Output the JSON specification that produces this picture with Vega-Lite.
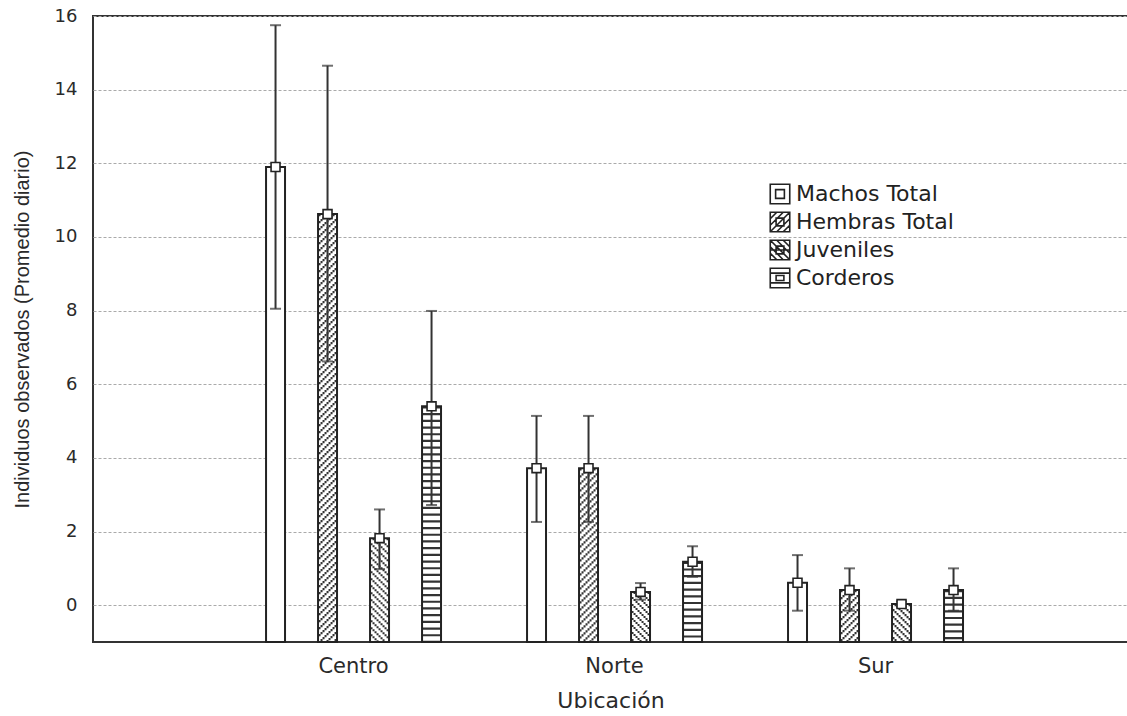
{
  "$schema": "https://vega.github.io/schema/vega-lite/v6.json",
  "width": 1035,
  "height": 626,
  "autosize": {"type": "none"},
  "padding": {"left": 93, "top": 16, "right": 0, "bottom": 74},
  "background": "white",
  "config": {
    "view": {"stroke": "#333", "strokeWidth": 2},
    "font": "DejaVu Sans",
    "axis": {"labelFont": "DejaVu Sans", "titleFont": "DejaVu Sans", "labelColor": "#2a2a2a", "titleColor": "#2a2a2a"}
  },
  "resolve": {"scale": {"xOffset": "independent"}},
  "data": {
    "values": [
      {"Ubicacion": "Centro", "Grupo": "Machos Total", "media": 11.9, "inf": 8.05, "sup": 15.75},
      {"Ubicacion": "Centro", "Grupo": "Hembras Total", "media": 10.62, "inf": 6.62, "sup": 14.65},
      {"Ubicacion": "Centro", "Grupo": "Juveniles", "media": 1.82, "inf": 0.98, "sup": 2.6},
      {"Ubicacion": "Centro", "Grupo": "Corderos", "media": 5.4, "inf": 2.72, "sup": 7.99},
      {"Ubicacion": "Norte", "Grupo": "Machos Total", "media": 3.72, "inf": 2.26, "sup": 5.14},
      {"Ubicacion": "Norte", "Grupo": "Hembras Total", "media": 3.72, "inf": 2.26, "sup": 5.14},
      {"Ubicacion": "Norte", "Grupo": "Juveniles", "media": 0.36, "inf": 0.15, "sup": 0.6},
      {"Ubicacion": "Norte", "Grupo": "Corderos", "media": 1.18, "inf": 0.77, "sup": 1.6},
      {"Ubicacion": "Sur", "Grupo": "Machos Total", "media": 0.61, "inf": -0.15, "sup": 1.36},
      {"Ubicacion": "Sur", "Grupo": "Hembras Total", "media": 0.41, "inf": -0.15, "sup": 1.0},
      {"Ubicacion": "Sur", "Grupo": "Juveniles", "media": 0.03, "inf": -0.03, "sup": 0.1},
      {"Ubicacion": "Sur", "Grupo": "Corderos", "media": 0.41, "inf": -0.15, "sup": 1.0}
    ]
  },
  "encoding": {
    "x": {
      "field": "Ubicacion", "type": "nominal", "sort": ["Centro", "Norte", "Sur"],
      "scale": {"type": "band", "paddingInner": 0, "paddingOuter": 0.4828, "align": 0.516},
      "title": "Ubicación",
      "axis": {"labelAngle": 0, "labelFontSize": 21, "titleFontSize": 22, "titleFontWeight": "normal", "ticks": false, "domain": false, "labelPadding": 13, "titlePadding": 14}
    },
    "xOffset": {
      "field": "Grupo", "type": "nominal",
      "scale": {"type": "band", "domain": ["Machos Total", "Hembras Total", "Juveniles", "Corderos"], "paddingInner": 0.635, "paddingOuter": 0.827}
    }
  },
  "layer": [
    {
      "mark": {"type": "bar", "fill": "white", "strokeWidth": 0},
      "encoding": {
        "y": {
          "field": "media", "type": "quantitative",
          "scale": {"domain": [-1, 16], "nice": false, "zero": false},
          "title": "Individuos observados (Promedio diario)",
          "axis": {"values": [0, 2, 4, 6, 8, 10, 12, 14, 16], "grid": true, "gridDash": [3, 2], "gridColor": "#aaa", "gridWidth": 1, "domain": false, "tickSize": 0, "labelFontSize": 18, "labelPadding": 16, "titleFont": "Liberation Sans", "titleFontSize": 20, "titleFontWeight": "normal", "titlePadding": 22}
        },
        "y2": {"datum": -1}
      }
    },
    {"transform": [{"filter": "datum.Grupo === 'Hembras Total'"}], "mark": {"type": "rule", "color": "#333", "strokeWidth": 2, "strokeCap": "butt", "strokeDash": [2.2, 4.8], "strokeDashOffset": 0}, "encoding": {"xOffset": {"field": "Grupo", "type": "nominal", "scale": {"type": "band", "domain": ["Machos Total", "Hembras Total", "Juveniles", "Corderos"], "paddingInner": 0.635, "paddingOuter": 0.827, "align": 0.407}}, "y": {"field": "media", "type": "quantitative"}, "y2": {"datum": -1}}},
    {"transform": [{"filter": "datum.Grupo === 'Hembras Total'"}], "mark": {"type": "rule", "color": "#333", "strokeWidth": 2, "strokeCap": "butt", "strokeDash": [2.2, 4.8], "strokeDashOffset": 2}, "encoding": {"xOffset": {"field": "Grupo", "type": "nominal", "scale": {"type": "band", "domain": ["Machos Total", "Hembras Total", "Juveniles", "Corderos"], "paddingInner": 0.635, "paddingOuter": 0.827, "align": 0.43025}}, "y": {"field": "media", "type": "quantitative"}, "y2": {"datum": -1}}},
    {"transform": [{"filter": "datum.Grupo === 'Hembras Total'"}], "mark": {"type": "rule", "color": "#333", "strokeWidth": 2, "strokeCap": "butt", "strokeDash": [2.2, 4.8], "strokeDashOffset": 4}, "encoding": {"xOffset": {"field": "Grupo", "type": "nominal", "scale": {"type": "band", "domain": ["Machos Total", "Hembras Total", "Juveniles", "Corderos"], "paddingInner": 0.635, "paddingOuter": 0.827, "align": 0.4535}}, "y": {"field": "media", "type": "quantitative"}, "y2": {"datum": -1}}},
    {"transform": [{"filter": "datum.Grupo === 'Hembras Total'"}], "mark": {"type": "rule", "color": "#333", "strokeWidth": 2, "strokeCap": "butt", "strokeDash": [2.2, 4.8], "strokeDashOffset": 6}, "encoding": {"xOffset": {"field": "Grupo", "type": "nominal", "scale": {"type": "band", "domain": ["Machos Total", "Hembras Total", "Juveniles", "Corderos"], "paddingInner": 0.635, "paddingOuter": 0.827, "align": 0.47675}}, "y": {"field": "media", "type": "quantitative"}, "y2": {"datum": -1}}},
    {"transform": [{"filter": "datum.Grupo === 'Hembras Total'"}], "mark": {"type": "rule", "color": "#333", "strokeWidth": 2, "strokeCap": "butt", "strokeDash": [2.2, 4.8], "strokeDashOffset": 8}, "encoding": {"xOffset": {"field": "Grupo", "type": "nominal", "scale": {"type": "band", "domain": ["Machos Total", "Hembras Total", "Juveniles", "Corderos"], "paddingInner": 0.635, "paddingOuter": 0.827, "align": 0.5}}, "y": {"field": "media", "type": "quantitative"}, "y2": {"datum": -1}}},
    {"transform": [{"filter": "datum.Grupo === 'Hembras Total'"}], "mark": {"type": "rule", "color": "#333", "strokeWidth": 2, "strokeCap": "butt", "strokeDash": [2.2, 4.8], "strokeDashOffset": 10}, "encoding": {"xOffset": {"field": "Grupo", "type": "nominal", "scale": {"type": "band", "domain": ["Machos Total", "Hembras Total", "Juveniles", "Corderos"], "paddingInner": 0.635, "paddingOuter": 0.827, "align": 0.52325}}, "y": {"field": "media", "type": "quantitative"}, "y2": {"datum": -1}}},
    {"transform": [{"filter": "datum.Grupo === 'Hembras Total'"}], "mark": {"type": "rule", "color": "#333", "strokeWidth": 2, "strokeCap": "butt", "strokeDash": [2.2, 4.8], "strokeDashOffset": 12}, "encoding": {"xOffset": {"field": "Grupo", "type": "nominal", "scale": {"type": "band", "domain": ["Machos Total", "Hembras Total", "Juveniles", "Corderos"], "paddingInner": 0.635, "paddingOuter": 0.827, "align": 0.5465}}, "y": {"field": "media", "type": "quantitative"}, "y2": {"datum": -1}}},
    {"transform": [{"filter": "datum.Grupo === 'Hembras Total'"}], "mark": {"type": "rule", "color": "#333", "strokeWidth": 2, "strokeCap": "butt", "strokeDash": [2.2, 4.8], "strokeDashOffset": 14}, "encoding": {"xOffset": {"field": "Grupo", "type": "nominal", "scale": {"type": "band", "domain": ["Machos Total", "Hembras Total", "Juveniles", "Corderos"], "paddingInner": 0.635, "paddingOuter": 0.827, "align": 0.56975}}, "y": {"field": "media", "type": "quantitative"}, "y2": {"datum": -1}}},
    {"transform": [{"filter": "datum.Grupo === 'Hembras Total'"}], "mark": {"type": "rule", "color": "#333", "strokeWidth": 2, "strokeCap": "butt", "strokeDash": [2.2, 4.8], "strokeDashOffset": 16}, "encoding": {"xOffset": {"field": "Grupo", "type": "nominal", "scale": {"type": "band", "domain": ["Machos Total", "Hembras Total", "Juveniles", "Corderos"], "paddingInner": 0.635, "paddingOuter": 0.827, "align": 0.593}}, "y": {"field": "media", "type": "quantitative"}, "y2": {"datum": -1}}},
    {"transform": [{"filter": "datum.Grupo === 'Juveniles'"}], "mark": {"type": "rule", "color": "#333", "strokeWidth": 2, "strokeCap": "butt", "strokeDash": [2.2, 4.8], "strokeDashOffset": 16}, "encoding": {"xOffset": {"field": "Grupo", "type": "nominal", "scale": {"type": "band", "domain": ["Machos Total", "Hembras Total", "Juveniles", "Corderos"], "paddingInner": 0.635, "paddingOuter": 0.827, "align": 0.407}}, "y": {"field": "media", "type": "quantitative"}, "y2": {"datum": -1}}},
    {"transform": [{"filter": "datum.Grupo === 'Juveniles'"}], "mark": {"type": "rule", "color": "#333", "strokeWidth": 2, "strokeCap": "butt", "strokeDash": [2.2, 4.8], "strokeDashOffset": 14}, "encoding": {"xOffset": {"field": "Grupo", "type": "nominal", "scale": {"type": "band", "domain": ["Machos Total", "Hembras Total", "Juveniles", "Corderos"], "paddingInner": 0.635, "paddingOuter": 0.827, "align": 0.43025}}, "y": {"field": "media", "type": "quantitative"}, "y2": {"datum": -1}}},
    {"transform": [{"filter": "datum.Grupo === 'Juveniles'"}], "mark": {"type": "rule", "color": "#333", "strokeWidth": 2, "strokeCap": "butt", "strokeDash": [2.2, 4.8], "strokeDashOffset": 12}, "encoding": {"xOffset": {"field": "Grupo", "type": "nominal", "scale": {"type": "band", "domain": ["Machos Total", "Hembras Total", "Juveniles", "Corderos"], "paddingInner": 0.635, "paddingOuter": 0.827, "align": 0.4535}}, "y": {"field": "media", "type": "quantitative"}, "y2": {"datum": -1}}},
    {"transform": [{"filter": "datum.Grupo === 'Juveniles'"}], "mark": {"type": "rule", "color": "#333", "strokeWidth": 2, "strokeCap": "butt", "strokeDash": [2.2, 4.8], "strokeDashOffset": 10}, "encoding": {"xOffset": {"field": "Grupo", "type": "nominal", "scale": {"type": "band", "domain": ["Machos Total", "Hembras Total", "Juveniles", "Corderos"], "paddingInner": 0.635, "paddingOuter": 0.827, "align": 0.47675}}, "y": {"field": "media", "type": "quantitative"}, "y2": {"datum": -1}}},
    {"transform": [{"filter": "datum.Grupo === 'Juveniles'"}], "mark": {"type": "rule", "color": "#333", "strokeWidth": 2, "strokeCap": "butt", "strokeDash": [2.2, 4.8], "strokeDashOffset": 8}, "encoding": {"xOffset": {"field": "Grupo", "type": "nominal", "scale": {"type": "band", "domain": ["Machos Total", "Hembras Total", "Juveniles", "Corderos"], "paddingInner": 0.635, "paddingOuter": 0.827, "align": 0.5}}, "y": {"field": "media", "type": "quantitative"}, "y2": {"datum": -1}}},
    {"transform": [{"filter": "datum.Grupo === 'Juveniles'"}], "mark": {"type": "rule", "color": "#333", "strokeWidth": 2, "strokeCap": "butt", "strokeDash": [2.2, 4.8], "strokeDashOffset": 6}, "encoding": {"xOffset": {"field": "Grupo", "type": "nominal", "scale": {"type": "band", "domain": ["Machos Total", "Hembras Total", "Juveniles", "Corderos"], "paddingInner": 0.635, "paddingOuter": 0.827, "align": 0.52325}}, "y": {"field": "media", "type": "quantitative"}, "y2": {"datum": -1}}},
    {"transform": [{"filter": "datum.Grupo === 'Juveniles'"}], "mark": {"type": "rule", "color": "#333", "strokeWidth": 2, "strokeCap": "butt", "strokeDash": [2.2, 4.8], "strokeDashOffset": 4}, "encoding": {"xOffset": {"field": "Grupo", "type": "nominal", "scale": {"type": "band", "domain": ["Machos Total", "Hembras Total", "Juveniles", "Corderos"], "paddingInner": 0.635, "paddingOuter": 0.827, "align": 0.5465}}, "y": {"field": "media", "type": "quantitative"}, "y2": {"datum": -1}}},
    {"transform": [{"filter": "datum.Grupo === 'Juveniles'"}], "mark": {"type": "rule", "color": "#333", "strokeWidth": 2, "strokeCap": "butt", "strokeDash": [2.2, 4.8], "strokeDashOffset": 2}, "encoding": {"xOffset": {"field": "Grupo", "type": "nominal", "scale": {"type": "band", "domain": ["Machos Total", "Hembras Total", "Juveniles", "Corderos"], "paddingInner": 0.635, "paddingOuter": 0.827, "align": 0.56975}}, "y": {"field": "media", "type": "quantitative"}, "y2": {"datum": -1}}},
    {"transform": [{"filter": "datum.Grupo === 'Juveniles'"}], "mark": {"type": "rule", "color": "#333", "strokeWidth": 2, "strokeCap": "butt", "strokeDash": [2.2, 4.8], "strokeDashOffset": 0}, "encoding": {"xOffset": {"field": "Grupo", "type": "nominal", "scale": {"type": "band", "domain": ["Machos Total", "Hembras Total", "Juveniles", "Corderos"], "paddingInner": 0.635, "paddingOuter": 0.827, "align": 0.593}}, "y": {"field": "media", "type": "quantitative"}, "y2": {"datum": -1}}},
    {"transform": [{"filter": "datum.Grupo === 'Corderos'"}], "mark": {"type": "rule", "color": "#333", "strokeWidth": 18, "strokeCap": "butt", "strokeDash": [2.2, 4.5]}, "encoding": {"y": {"field": "media", "type": "quantitative"}, "y2": {"datum": -1}}},
    {
      "mark": {"type": "bar", "filled": false, "color": "#222", "strokeWidth": 2},
      "encoding": {"y": {"field": "media", "type": "quantitative"}, "y2": {"datum": -1}}
    },
    {
      "mark": {"type": "rule", "color": "#333", "strokeWidth": 2},
      "encoding": {"y": {"field": "inf", "type": "quantitative"}, "y2": {"field": "sup"}}
    },
    {
      "mark": {"type": "tick", "color": "#333", "size": 11, "thickness": 2},
      "encoding": {"y": {"field": "inf", "type": "quantitative"}}
    },
    {
      "mark": {"type": "tick", "color": "#333", "size": 11, "thickness": 2},
      "encoding": {"y": {"field": "sup", "type": "quantitative"}}
    },
    {
      "mark": {"type": "point", "filled": false, "color": "#222", "strokeWidth": 1.5, "size": 30, "opacity": 1},
      "encoding": {
        "y": {"field": "media", "type": "quantitative"},
        "shape": {
          "field": "Grupo", "type": "nominal",
          "scale": {
            "domain": ["Machos Total", "Hembras Total", "Juveniles", "Corderos"],
            "range": [
              "M-1,-1H1V1H-1Z M-0.45,-0.45H0.45V0.45H-0.45Z",
              "M-1,-1H1V1H-1Z M-1,-0.33L-0.33,-1 M-1,0.33L0.33,-1 M-1,1L1,-1 M-0.33,1L1,-0.33 M0.33,1L1,0.33 M-0.4,-0.4H0.4V0.4H-0.4Z",
              "M-1,-1H1V1H-1Z M-1,-1L1,1 M-0.33,-1L1,0.33 M0.33,-1L1,-0.33 M-1,-0.33L0.33,1 M-1,0.33L-0.33,1 M-1,0H1 M-0.4,-0.4H0.4V0.4H-0.4Z",
              "M-1,-1H1V1H-1Z M-1,-0.5H1 M-1,0.5H1 M-0.4,-0.25H0.4V0.25H-0.4Z"
            ]
          },
          "legend": {
            "title": null, "orient": "none", "legendX": 676, "legendY": 167, "padding": 0,
            "symbolSize": 380, "symbolStrokeWidth": 1.6, "symbolOpacity": 1,
            "labelFont": "DejaVu Sans", "labelFontSize": 22, "labelColor": "#222", "labelOffset": 5, "rowPadding": 2,
            "labelLimit": 300,
            "encode": {"symbols": {"update": {"stroke": {"value": "#222"}, "fill": {"value": "white"}, "opacity": {"value": 1}}}}
          }
        }
      }
    },
    {
      "mark": {"type": "point", "shape": "square", "filled": true, "fill": "white", "stroke": "#222", "strokeWidth": 1.6, "size": 80, "opacity": 1},
      "encoding": {"y": {"field": "media", "type": "quantitative"}}
    }
  ]
}
